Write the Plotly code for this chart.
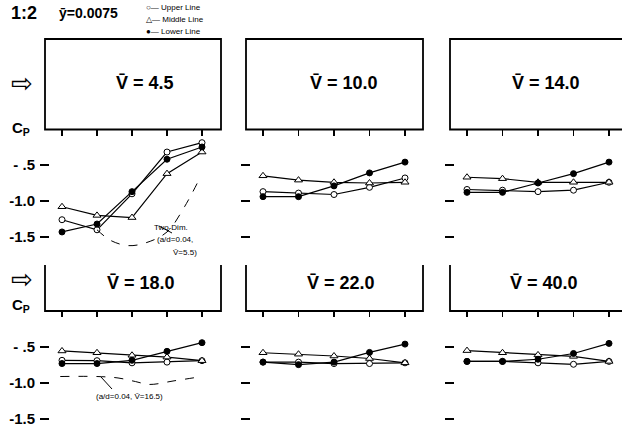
import plotly.graph_objects as go

W, H = 622, 427

def px(x):
    return x / W

def py(y):
    return 1 - y / H

# ---------------- data ----------------
positions = [1, 2, 3, 4, 5]
v_labels = ["4.5", "10.0", "14.0", "18.0", "22.0", "40.0"]

upper_line = [
    [-1.26, -1.40, -0.90, -0.32, -0.19],
    [-0.87, -0.89, -0.91, -0.81, -0.68],
    [-0.84, -0.85, -0.87, -0.85, -0.74],
    [-0.685, -0.69, -0.72, -0.71, -0.69],
    [-0.71, -0.71, -0.73, -0.73, -0.72],
    [-0.70, -0.70, -0.72, -0.74, -0.70],
]
middle_line = [
    [-1.08, -1.20, -1.23, -0.62, -0.32],
    [-0.65, -0.71, -0.74, -0.75, -0.74],
    [-0.67, -0.69, -0.74, -0.74, -0.74],
    [-0.555, -0.58, -0.615, -0.64, -0.69],
    [-0.58, -0.60, -0.625, -0.66, -0.72],
    [-0.55, -0.58, -0.61, -0.63, -0.70],
]
lower_line = [
    [-1.43, -1.32, -0.87, -0.42, -0.25],
    [-0.94, -0.94, -0.79, -0.61, -0.46],
    [-0.88, -0.88, -0.75, -0.62, -0.46],
    [-0.73, -0.73, -0.685, -0.56, -0.44],
    [-0.71, -0.745, -0.71, -0.575, -0.46],
    [-0.70, -0.70, -0.67, -0.59, -0.45],
]

# two-dimensional reference curves (dashed)
two_dim_x = [2.0, 2.4, 2.9, 3.4, 4.0, 4.5, 4.95]
two_dim_y = [-1.40, -1.55, -1.62, -1.58, -1.43, -1.08, -0.67]
ref18_x = [0.95, 2.0, 2.6, 3.1, 3.5, 4.2, 5.0]
ref18_y = [-0.91, -0.91, -0.93, -0.98, -1.02, -0.97, -0.91]

ytick_vals = [-0.5, -1.0, -1.5]
ytick_text = ["- .5", "-1.0", "-1.5"]

# ---------------- geometry ----------------
# columns: (domain x0, domain x1, first tick px, last tick px, box left, box right)
cols = [(50, 222, 62, 202, 45, 221), (251, 425, 263, 405, 246, 423), (455, 622, 467, 609, 450, 640)]
# rows: (domain top px, domain bottom px, px of -0.5)
rows = [(129.5, 250, 165), (311, 427, 347)]
PX_PER_UNIT_Y = 72.0
label_cx = [[145, 344, 546], [141, 341, 544]]

fig = go.Figure()
layout = dict(
    width=W, height=H, margin=dict(l=0, r=0, t=0, b=0),
    paper_bgcolor="white", plot_bgcolor="white", showlegend=False,
    font=dict(family="Liberation Sans", color="black"),
)
shapes = []
annotations = []

for i in range(6):
    r, c = divmod(i, 3)
    n = "" if i == 0 else str(i + 1)
    d0, d1, t1, t5, bl, br = cols[c]
    top, bot, t05 = rows[r]
    sp = (t5 - t1) / 4.0
    xr = [1 - (t1 - d0) / sp, 5 + (d1 - t5) / sp]
    yr = [-0.5 - (bot - t05) / PX_PER_UNIT_Y, -0.5 + (t05 - top) / PX_PER_UNIT_Y]
    xa, ya = "x" + n, "y" + n
    layout["xaxis" + n] = dict(
        domain=[px(d0), px(d1)], range=xr, anchor=ya, side="top",
        ticks="inside", ticklen=6, tickwidth=1.3, tickcolor="black",
        tickvals=positions, showticklabels=False, showgrid=False,
        zeroline=False, showline=False, fixedrange=True,
    )
    layout["yaxis" + n] = dict(
        domain=[py(bot), py(top)], range=yr, anchor=xa,
        ticks="outside", ticklen=9, tickwidth=1.6, tickcolor="black",
        tickvals=ytick_vals, ticktext=ytick_text, showticklabels=(c == 0),
        tickfont=dict(size=15, family="Liberation Sans", weight="bold"),
        ticklabelstandoff=2, ticklabeloverflow="allow",
        showgrid=False, zeroline=False, showline=False, fixedrange=True,
    )
    styles = [
        (upper_line[i], dict(symbol="circle", size=6, color="white", line=dict(color="black", width=1))),
        (middle_line[i], dict(symbol="triangle-up", size=7, color="white", line=dict(color="black", width=1))),
        (lower_line[i], dict(symbol="circle", size=6, color="black", line=dict(color="black", width=1))),
    ]
    for vals, mk in styles:
        fig.add_trace(go.Scatter(
            x=positions, y=vals, mode="lines+markers", xaxis=xa, yaxis=ya,
            line=dict(color="black", width=1.2), marker=mk, hoverinfo="skip",
        ))
    # building box
    if r == 0:
        ytop = 39
        path = (f"M {px(bl)},{py(top)} L {px(bl)},{py(ytop)} L {px(br)},{py(ytop)} "
                f"L {px(br)},{py(top)} Z")
        label_y = 83
    else:
        ytop = 265
        path = (f"M {px(bl)},{py(ytop)} L {px(bl)},{py(311)} L {px(br)},{py(311)} "
                f"L {px(br)},{py(ytop)}")
        label_y = 283
    shapes.append(dict(type="path", path=path, xref="paper", yref="paper",
                       line=dict(color="black", width=1.8)))
    annotations.append(dict(
        text="V\u0304 = " + v_labels[i], x=px(label_cx[r][c]), y=py(label_y),
        xref="paper", yref="paper",
        showarrow=False, xanchor="center", yanchor="middle",
        font=dict(size=18, family="Liberation Sans", weight="bold"),
    ))

# dashed reference curves
fig.add_trace(go.Scatter(x=two_dim_x, y=two_dim_y, mode="lines", xaxis="x", yaxis="y",
                         hoverinfo="skip",
                         line=dict(color="black", width=1, dash="dash", shape="spline")))
fig.add_trace(go.Scatter(x=ref18_x, y=ref18_y, mode="lines", xaxis="x4", yaxis="y4",
                         hoverinfo="skip",
                         line=dict(color="black", width=1, dash="dash", shape="spline")))

# pointer lines
shapes.append(dict(type="line", xref="paper", yref="paper", x0=px(159), y0=py(226),
                   x1=px(172), y1=py(233), line=dict(color="black", width=1)))
shapes.append(dict(type="line", xref="paper", yref="paper", x0=px(101), y0=py(377),
                   x1=px(112), y1=py(389), line=dict(color="black", width=1)))

small = dict(size=8, family="Liberation Sans")
for txt, x, y in [("Two-Dim.", 152, 227), ("(a/d=0.04,", 155, 240), ("V\u0304=5.5)", 171, 252),
                  ("(a/d=0.04, V\u0304=16.5)", 94, 396)]:
    annotations.append(dict(text=txt, x=px(x), y=py(y), xref="paper", yref="paper",
                            showarrow=False, xanchor="left", yanchor="middle", font=small))

# headers
annotations.append(dict(text="1:2", x=px(9), y=py(13), xref="paper", yref="paper", showarrow=False,
                        xanchor="left", yanchor="middle",
                        font=dict(size=18, family="Liberation Sans", weight="bold")))
annotations.append(dict(text="y\u0304=0.0075", x=px(57), y=py(13), xref="paper", yref="paper",
                        showarrow=False, xanchor="left", yanchor="middle",
                        font=dict(size=14, family="Liberation Sans", weight="bold")))
for txt, y in [("\u25cb\u2014 Upper Line", 7), ("\u25b3\u2014 Middle Line", 19), ("\u25cf\u2014 Lower Line", 32)]:
    annotations.append(dict(text=txt, x=px(144), y=py(y), xref="paper", yref="paper",
                            showarrow=False, xanchor="left", yanchor="middle",
                            font=dict(size=8, family="Liberation Sans")))

# flow arrows and Cp labels
for y in [83, 279]:
    annotations.append(dict(text="\u21e8", x=px(22), y=py(y), xref="paper", yref="paper",
                            showarrow=False, xanchor="center", yanchor="middle",
                            font=dict(size=26, family="DejaVu Sans")))
for y in [128, 305]:
    annotations.append(dict(text="C<sub>P</sub>", x=px(21), y=py(y), xref="paper", yref="paper",
                            showarrow=False, xanchor="center", yanchor="middle",
                            font=dict(size=15, family="Liberation Sans", weight="bold")))

layout["shapes"] = shapes
layout["annotations"] = annotations
layout["hovermode"] = False
fig.update_layout(**layout)
fig.write_html("out.html", config={"displayModeBar": False, "staticPlot": True},
               post_script="document.body.style.margin='0';document.body.style.overflow='hidden';")
